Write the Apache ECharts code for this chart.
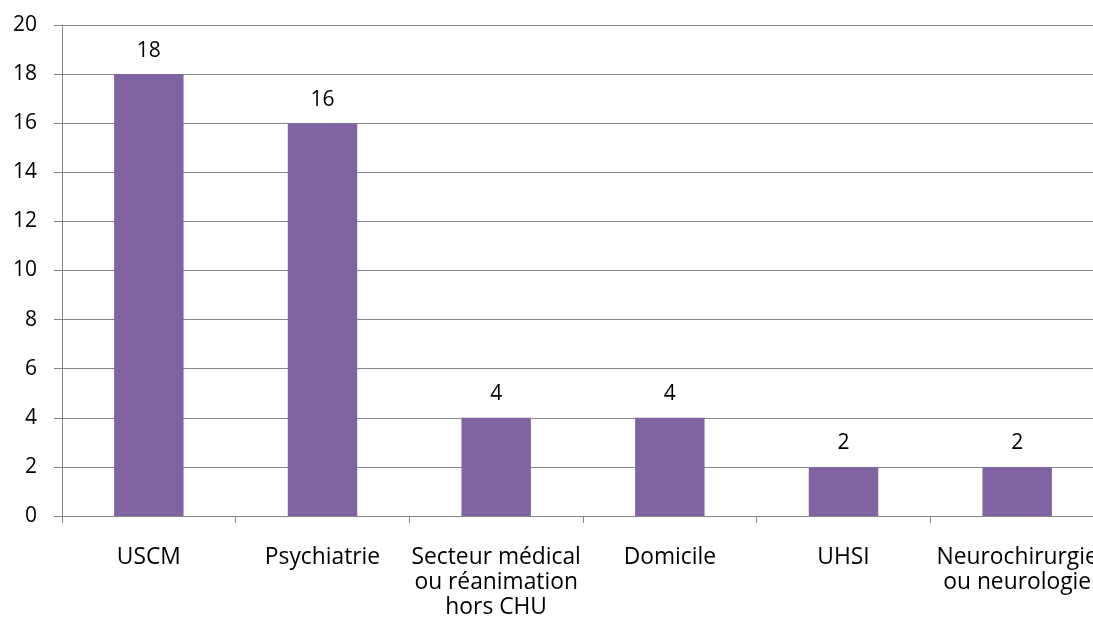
<!DOCTYPE html>
<html>
<head>
<meta charset="utf-8">
<script src="https://cdn.jsdelivr.net/npm/echarts@6/dist/echarts.min.js"></script>
<style>
  html, body { margin: 0; padding: 0; background: #fff; }
  #chart { width: 1093px; height: 632px; }
</style>
</head>
<body>
<div id="chart"></div>
<script>
// Destinations and counts
const categories = [
  'USCM',
  'Psychiatrie',
  'Secteur médical\nou réanimation\nhors CHU',
  'Domicile',
  'UHSI',
  'Neurochirurgie\nou neurologie'
];
const counts = [18, 16, 4, 4, 2, 2];

const FONT = '"Open Sans", "Liberation Sans", sans-serif';
const GRID_COLOR = '#868686';

const chart = echarts.init(document.getElementById('chart'));
chart.setOption({
  animation: false,
  grid: {
    left: 62, top: 25, width: 1042, height: 491,
    containLabel: false,
    outerBoundsMode: 'none'
  },
  xAxis: {
    type: 'category',
    data: categories,
    axisLine: { lineStyle: { color: GRID_COLOR, width: 1 } },
    axisTick: { show: true, length: 7, lineStyle: { color: GRID_COLOR } },
    axisLabel: {
      interval: 0,
      color: '#000',
      fontFamily: FONT,
      fontSize: 22.8,
      lineHeight: 25,
      margin: 29,
      hideOverlap: false
    }
  },
  yAxis: {
    type: 'value',
    min: 0,
    max: 20,
    interval: 2,
    axisLine: { show: true, lineStyle: { color: GRID_COLOR, width: 1 } },
    axisTick: { show: true, length: 8, lineStyle: { color: GRID_COLOR } },
    splitLine: { lineStyle: { color: GRID_COLOR, width: 1 } },
    axisLabel: { color: '#000', fontFamily: FONT, fontSize: 21, margin: 25 }
  },
  series: [{
    type: 'bar',
    data: counts,
    barWidth: '40%',
    itemStyle: { color: '#8064A2' },
    label: {
      show: true,
      position: 'top',
      distance: 13,
      color: '#000',
      fontFamily: FONT,
      fontSize: 21
    }
  }]
});
</script>
</body>
</html>
